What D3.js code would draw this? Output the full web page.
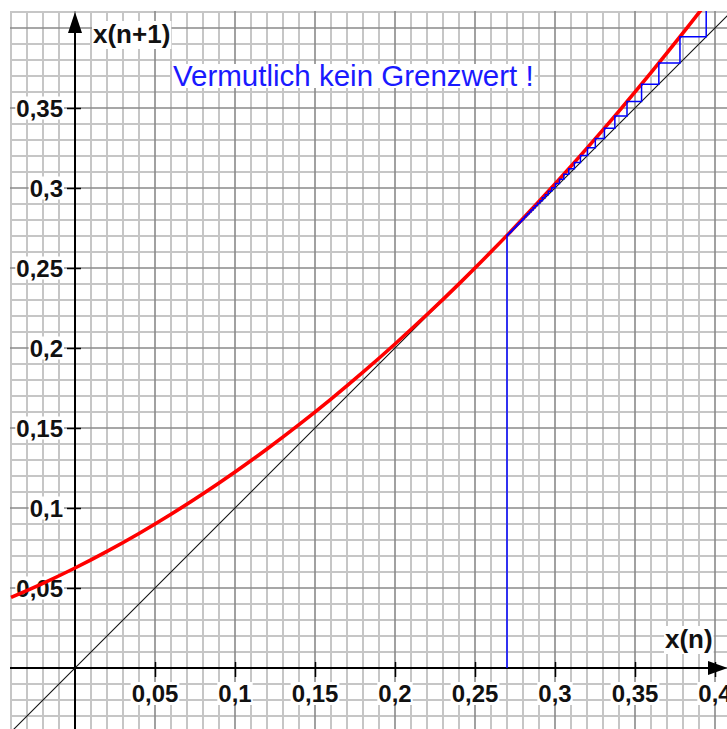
<!DOCTYPE html>
<html>
<head>
<meta charset="utf-8">
<script src="https://cdn.jsdelivr.net/npm/d3@7"></script>
<style>
  html, body { margin: 0; padding: 0; background: #fff; }
  svg { display: block; }
</style>
</head>
<body>
<div id="chart"></div>
<script>
// Werte
const xTicks = [0.05, 0.1, 0.15, 0.2, 0.25, 0.3, 0.35, 0.4];
const xTickLabels = ["0,05", "0,1", "0,15", "0,2", "0,25", "0,3", "0,35", "0,4"];
const yTicks = [0.05, 0.1, 0.15, 0.2, 0.25, 0.3, 0.35];
const yTickLabels = ["0,05", "0,1", "0,15", "0,2", "0,25", "0,3", "0,35"];

// rote Kurve x(n+1) = f(x(n))
const curveX = [-0.04, -0.02, 0, 0.02, 0.04, 0.06, 0.08, 0.1, 0.12, 0.14, 0.16, 0.18, 0.2, 0.22, 0.24, 0.26, 0.28, 0.3, 0.32, 0.34, 0.36, 0.38, 0.4];
const curveY = [0.0441, 0.0529, 0.0625, 0.0729, 0.0841, 0.0961, 0.1089, 0.1225, 0.1369, 0.1521, 0.1681, 0.1849, 0.2025, 0.2209, 0.2401, 0.2601, 0.2809, 0.3025, 0.3249, 0.3481, 0.3721, 0.3969, 0.4225];

// Folgenglieder (Treppe, Start bei 0,27)
const iterates = [0.27, 0.2704, 0.2708, 0.2712, 0.2717, 0.2722, 0.2727, 0.2732, 0.2737, 0.2743, 0.2749, 0.2755, 0.2761, 0.2768, 0.2775, 0.2783, 0.2791, 0.2799, 0.2808, 0.2818, 0.2828, 0.2839, 0.2850, 0.2863, 0.2876, 0.2890, 0.2905, 0.2921, 0.2939, 0.2958, 0.2979, 0.3002, 0.3028, 0.3055, 0.3086, 0.3121, 0.3159, 0.3203, 0.3252, 0.3309, 0.3374, 0.3450, 0.3541, 0.3649, 0.3781, 0.3945, 0.4154];

const diagonal = [-0.05, 0.45];
const annotation = "Vermutlich kein Grenzwert !";

const width = 727, height = 729;
const plotLeft = 10, plotTop = 11;
const font = "'Liberation Sans', Arial, sans-serif";

const svg = d3.select("#chart").append("svg")
    .attr("width", width)
    .attr("height", height);

const x = d3.scaleLinear().domain([0, 0.4]).range([75, 715]);
const y = d3.scaleLinear().domain([0, 0.4]).range([668, 28]);

svg.append("clipPath").attr("id", "plotClip")
    .append("rect")
    .attr("x", plotLeft).attr("y", plotTop)
    .attr("width", width - plotLeft).attr("height", height - plotTop);

const plot = svg.append("g").attr("clip-path", "url(#plotClip)");

// Gitter
const gridX = d3.range(-4, 42).map(i => i / 100);
const gridY = d3.range(-4, 42).map(i => i / 100);
const isMajor = v => Math.abs(Math.round(v * 100) % 5) === 0;

plot.append("g").selectAll("line")
    .data(gridX.filter(v => !isMajor(v)))
    .join("line")
    .attr("x1", d => x(d)).attr("x2", d => x(d))
    .attr("y1", plotTop).attr("y2", height)
    .attr("stroke", "#c6c6c6").attr("stroke-width", 2);
plot.append("g").selectAll("line")
    .data(gridY.filter(v => !isMajor(v)))
    .join("line")
    .attr("y1", d => y(d)).attr("y2", d => y(d))
    .attr("x1", plotLeft).attr("x2", width)
    .attr("stroke", "#c6c6c6").attr("stroke-width", 2);
plot.append("g").selectAll("line")
    .data(gridX.filter(isMajor))
    .join("line")
    .attr("x1", d => x(d)).attr("x2", d => x(d))
    .attr("y1", plotTop).attr("y2", height)
    .attr("stroke", "#8a8a8a").attr("stroke-width", 1.6);
plot.append("g").selectAll("line")
    .data(gridY.filter(isMajor))
    .join("line")
    .attr("y1", d => y(d)).attr("y2", d => y(d))
    .attr("x1", plotLeft).attr("x2", width)
    .attr("stroke", "#8a8a8a").attr("stroke-width", 1.6);

// Text mit weissem Hintergrund
function boxedText(parent, tx, ty, str, opts) {
    const g = parent.append("g");
    const t = g.append("text")
        .attr("x", tx).attr("y", ty)
        .attr("text-anchor", opts.anchor || "start")
        .style("font-family", font)
        .style("font-size", opts.size + "px")
        .style("font-weight", opts.weight || "normal")
        .style("fill", opts.color)
        .text(str);
    const bb = t.node().getBBox();
    const pad = opts.pad || 1;
    g.insert("rect", "text")
        .attr("x", bb.x - pad).attr("y", bb.y + (opts.trimTop || 0))
        .attr("width", bb.width + 2 * pad)
        .attr("height", bb.height - (opts.trimTop || 0) - (opts.trimBottom || 0))
        .attr("fill", "#fff");
    return g;
}

// Tick-Beschriftungen
xTicks.forEach((v, i) => {
    boxedText(plot, x(v), 702, xTickLabels[i],
        { anchor: "middle", size: 24, weight: "bold", color: "#111", trimTop: 2, trimBottom: 2 });
});
yTicks.forEach((v, i) => {
    boxedText(plot, 63, y(v) + 8.5, yTickLabels[i],
        { anchor: "end", size: 24, weight: "bold", color: "#111", trimTop: 2, trimBottom: 2 });
});

// Achsen
plot.append("line")
    .attr("x1", plotLeft).attr("x2", width - 14)
    .attr("y1", y(0)).attr("y2", y(0))
    .attr("stroke", "#000").attr("stroke-width", 2);
plot.append("line")
    .attr("x1", x(0)).attr("x2", x(0))
    .attr("y1", height).attr("y2", plotTop + 16)
    .attr("stroke", "#000").attr("stroke-width", 2);
plot.append("path")
    .attr("d", `M${x(0)},${plotTop + 1} L${x(0) - 7},${plotTop + 22} L${x(0) + 7},${plotTop + 22} Z`)
    .attr("fill", "#000");
plot.append("path")
    .attr("d", `M${width + 1},${y(0)} L${width - 19},${y(0) - 7} L${width - 19},${y(0) + 7} Z`)
    .attr("fill", "#000");

const xAxis = plot.append("g")
    .attr("transform", `translate(0,${y(0) - 6})`)
    .call(d3.axisBottom(x).tickValues(xTicks).tickSize(15).tickFormat(""));
xAxis.select(".domain").remove();
xAxis.selectAll(".tick line").attr("stroke", "#000").attr("stroke-width", 1.5);

const yAxis = plot.append("g")
    .attr("transform", `translate(${x(0) + 6},0)`)
    .call(d3.axisLeft(y).tickValues(yTicks).tickSize(14).tickFormat(""));
yAxis.select(".domain").remove();
yAxis.selectAll(".tick line").attr("stroke", "#000").attr("stroke-width", 1.5);

// Achsentitel
boxedText(plot, 93, 43, "x(n+1)", { size: 26, weight: "bold", color: "#111", trimTop: 2 });
boxedText(plot, 665, 648, "x(n)", { size: 26, weight: "bold", color: "#111", trimTop: 2 });

// Hinweis
boxedText(plot, 173, 86, annotation, { size: 29.5, color: "#1a1aff", trimTop: 5, trimBottom: 4 });

// Winkelhalbierende y = x
plot.append("line")
    .attr("x1", x(diagonal[0])).attr("y1", y(diagonal[0]))
    .attr("x2", x(diagonal[1])).attr("y2", y(diagonal[1]))
    .attr("stroke", "#111").attr("stroke-width", 1.1);

// rote Kurve
const curveData = curveX.map((v, i) => [v, curveY[i]]);
plot.append("path")
    .datum(curveData)
    .attr("fill", "none")
    .attr("stroke", "#ff0000")
    .attr("stroke-width", 3.6)
    .attr("d", d3.line().x(d => x(d[0])).y(d => y(d[1])).curve(d3.curveMonotoneX));

// Treppe
const stairs = [[iterates[0], 0]];
for (let i = 0; i < iterates.length - 1; i++) {
    stairs.push([iterates[i], iterates[i + 1]]);
    if (i < iterates.length - 2) stairs.push([iterates[i + 1], iterates[i + 1]]);
}
plot.append("path")
    .datum(stairs)
    .attr("fill", "none")
    .attr("stroke", "#0000ff")
    .attr("stroke-width", 1.5)
    .attr("d", d3.line().x(d => x(d[0])).y(d => y(d[1])));
</script>
</body>
</html>
